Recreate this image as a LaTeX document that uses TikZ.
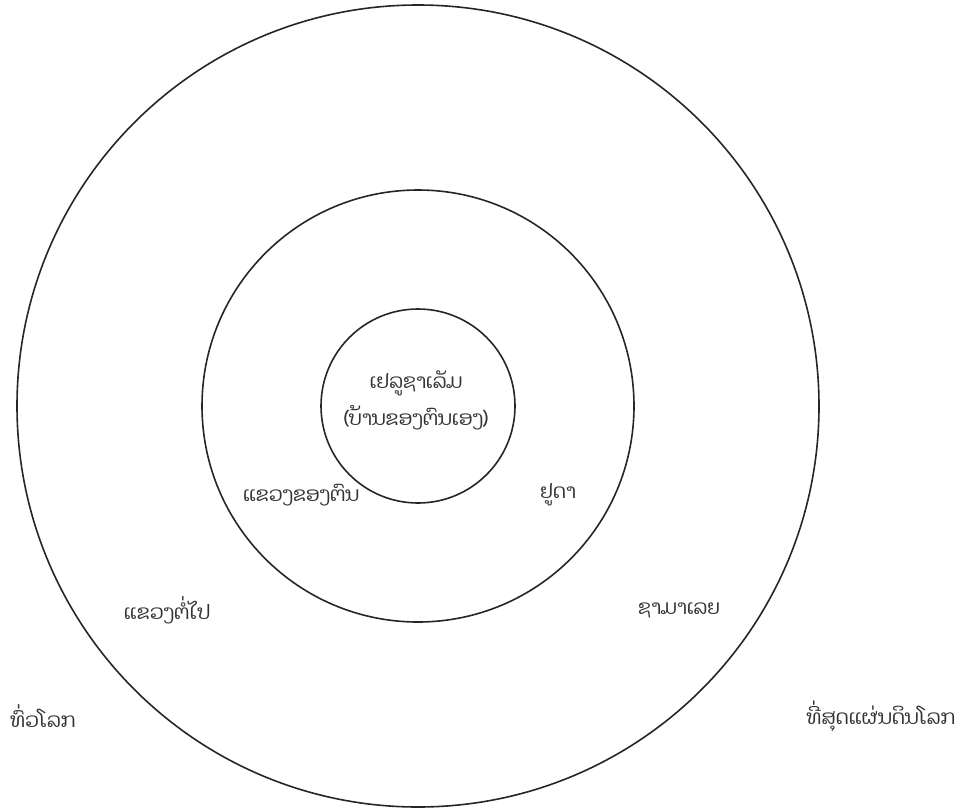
\documentclass[tikz,border=0pt]{standalone}
\usepackage{fontspec}
\newfontfamily\laofont[Script=Lao]{Dhyana}
\begin{document}
\begin{tikzpicture}[x=1pt,y=-1pt,
  ring/.style={circle,draw=black!85,line width=1.6pt,inner sep=0pt},
  lbl/.style={font=\laofont\fontsize{20}{37}\selectfont,text=black!80,inner sep=0pt,align=center}]
\useasboundingbox (0,0) rectangle (963,809);
\node[ring,minimum size=802pt] (outer) at (418,406) {};
\node[ring,minimum size=432pt] (middle) at (418,406) {};
\node[ring,minimum size=194pt] (inner) at (418,406) {};
\node[lbl] (jer) at (416,400) {ເຢລູຊາເລັມ\\(ບ້ານຂອງຕົນເອງ)};
\node[lbl] (own) at (301,495) {ແຂວງຂອງຕົນ};
\node[lbl] (jud) at (558,495) {ຢູດາ};
\node[lbl] (next) at (167,610) {ແຂວງຕໍ່ໄປ};
\node[lbl] (sam) at (679,610) {ຊາມາເລຍ};
\node[lbl] (world) at (43,716) {ທົ່ວໂລກ};
\node[lbl] (ends) at (881,716) {ທີ່ສຸດແຜ່ນດິນໂລກ};
\end{tikzpicture}
\end{document}
